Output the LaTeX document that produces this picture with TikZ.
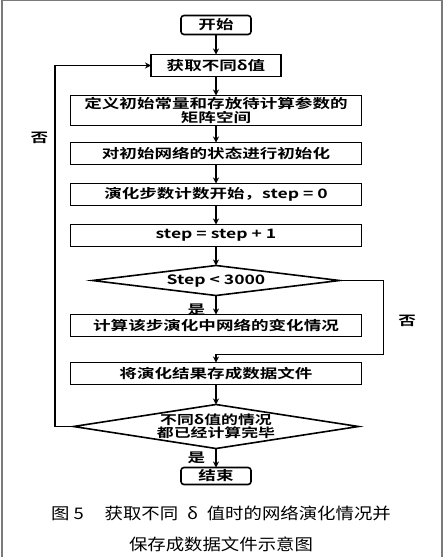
\documentclass[tikz,border=0pt]{standalone}
\usepackage{fontspec}
\setmainfont{Noto Sans CJK SC}[BoldFont={Noto Sans CJK SC Bold},FakeStretch=1.35]
\newfontfamily\capfont{Noto Sans CJK SC}[FakeStretch=1.15]
\usepackage{tikz}
\usetikzlibrary{positioning,arrows.meta,shapes.geometric,calc}
\definecolor{frm}{HTML}{7A7A7A}
\tikzset{
  box/.style={rectangle, draw=black, line width=1.6pt, minimum width=291pt,
              minimum height=22pt, inner sep=0pt, outer sep=0pt, align=center,
              font=\fontsize{13pt}{14pt}\selectfont\bfseries},
  term/.style={rectangle, rounded corners=3pt, draw=black, line width=1.6pt,
               minimum width=70pt, minimum height=19pt, inner sep=0pt, outer sep=0pt,
               font=\fontsize{13pt}{14pt}\selectfont\bfseries},
  cond/.style={diamond, draw=black, line width=1.6pt, inner sep=0pt, outer sep=0pt,
               align=center, font=\fontsize{13pt}{14pt}\selectfont\bfseries},
  lbl/.style={inner sep=2pt, font=\fontsize{13pt}{14pt}\selectfont\bfseries},
  flow/.style={-{Stealth[length=6pt,width=6pt]}, line width=1.6pt}
}
\begin{document}
\begin{tikzpicture}[node distance=19pt]
\useasboundingbox (0,0) rectangle (444pt,-557pt);
\draw[frm, line width=1.2pt] (2pt,-557pt) -- (2pt,-0.6pt) -- (442pt,-0.6pt) -- (442pt,-557pt);
\node[term] (start) at (216pt,-25pt) {开始};
\node[box, below=20pt of start, minimum width=130pt] (get) {获取不同δ值};
\node[box, below=of get, minimum height=30pt] (def) {定义初始常量和存放待计算参数的\\矩阵空间};
\node[box, below=17pt of def] (init) {对初始网络的状态进行初始化};
\node[box, below=of init] (cnt) {演化步数计数开始，step = 0};
\node[box, below=of cnt] (inc) {step = step + 1};
\node[cond, below=of inc, minimum width=247pt, minimum height=30pt, aspect=8] (chk) {Step < 3000};
\node[box, below=of chk] (calc) {计算该步演化中网络的变化情况};
\node[box, below=26pt of calc] (save) {将演化结果存成数据文件};
\node[cond, below=20pt of save, minimum width=285pt, minimum height=44pt, aspect=6.5,
      font=\fontsize{12.5pt}{13pt}\selectfont\bfseries] (done) {不同δ值的情况\\都已经计算完毕};
\node[term, below=19pt of done, minimum height=17pt] (stop) {结束};
\node[align=center, font=\capfont\fontsize{16pt}{31pt}\selectfont] (cap) at (221pt,-529pt)
  {图 5\hspace{1.3em}获取不同\hspace{0.55em}δ\hspace{0.55em}值时的网络演化情况并\\保存成数据文件示意图};
\coordinate (join) at ($(save.north)+(0,8pt)$);
% main flow
\draw[flow] (start)--(get);\draw[flow] (get)--(def);\draw[flow] (def)--(init);
\draw[flow] (init)--(cnt);\draw[flow] (cnt)--(inc);\draw[flow] (inc)--(chk);
\draw[flow] (chk)-- node[lbl, left=8pt, pos=0.75] (yes1) {是} (calc);
\draw[flow] (save)--(done);
\draw[flow] (done)-- node[lbl, left=8pt, pos=0.47] (yes2) {是} (stop);
% loops
\draw[flow] (chk.east) -- ++(44pt,0) |- node[lbl, right=12pt, pos=0.27] (no1) {否} (join) -- (save.north);
\draw[flow] (done.west) -- ++(-18.5pt,0) |- node[lbl, left=4pt, pos=0.4] (no2) {否} (get.west);
\end{tikzpicture}
\end{document}
